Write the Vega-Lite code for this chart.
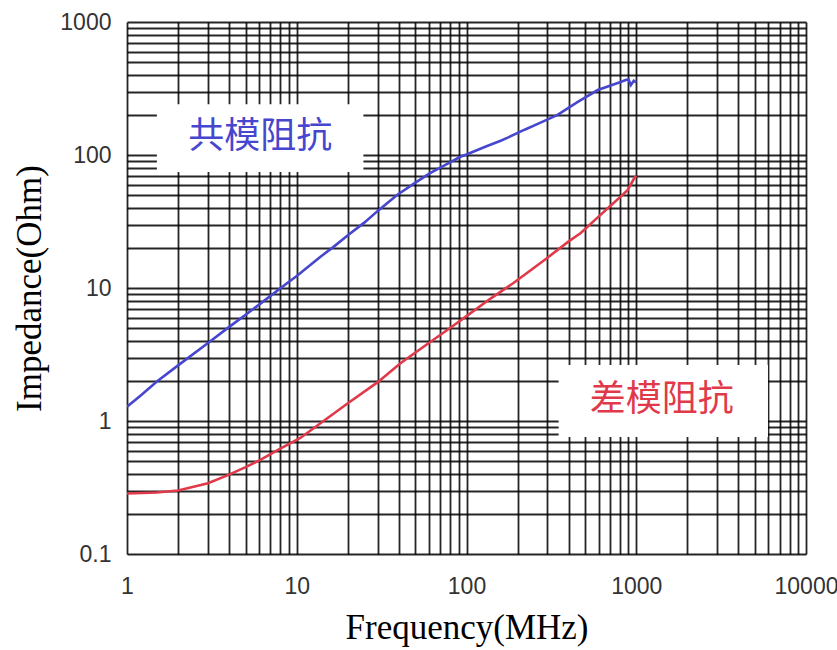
{
  "$schema": "https://vega.github.io/schema/vega-lite/v6.json",
  "width": 679,
  "height": 532,
  "autosize": {"type": "none"},
  "padding": {"left": 127, "top": 22, "right": 31, "bottom": 96},
  "background": "white",
  "config": {"view": {"stroke": null}},
  "datasets": {
    "curves": [
      {"series": "共模", "f": 1, "z": 1.28},
      {"series": "共模", "f": 1.2, "z": 1.55},
      {"series": "共模", "f": 1.5, "z": 1.98},
      {"series": "共模", "f": 2, "z": 2.62},
      {"series": "共模", "f": 3, "z": 3.86},
      {"series": "共模", "f": 4, "z": 5.1},
      {"series": "共模", "f": 5, "z": 6.3},
      {"series": "共模", "f": 6, "z": 7.5},
      {"series": "共模", "f": 8.8, "z": 10.9},
      {"series": "共模", "f": 10, "z": 12.3},
      {"series": "共模", "f": 13.8, "z": 17.2},
      {"series": "共模", "f": 16.4, "z": 20.3},
      {"series": "共模", "f": 20, "z": 24.9},
      {"series": "共模", "f": 25, "z": 31},
      {"series": "共模", "f": 30, "z": 38},
      {"series": "共模", "f": 39, "z": 50},
      {"series": "共模", "f": 50, "z": 62},
      {"series": "共模", "f": 61, "z": 73},
      {"series": "共模", "f": 80, "z": 88},
      {"series": "共模", "f": 92, "z": 97},
      {"series": "共模", "f": 100, "z": 101},
      {"series": "共模", "f": 130, "z": 116},
      {"series": "共模", "f": 159, "z": 128},
      {"series": "共模", "f": 175, "z": 135},
      {"series": "共模", "f": 220, "z": 155},
      {"series": "共模", "f": 273, "z": 175},
      {"series": "共模", "f": 344, "z": 200},
      {"series": "共模", "f": 450, "z": 250},
      {"series": "共模", "f": 593, "z": 308},
      {"series": "共模", "f": 700, "z": 332},
      {"series": "共模", "f": 800, "z": 352},
      {"series": "共模", "f": 867, "z": 366},
      {"series": "共模", "f": 900, "z": 370},
      {"series": "共模", "f": 929, "z": 336},
      {"series": "共模", "f": 967, "z": 362},
      {"series": "共模", "f": 1000, "z": 352},
      {"series": "差模", "f": 1, "z": 0.285},
      {"series": "差模", "f": 1.5, "z": 0.29},
      {"series": "差模", "f": 2, "z": 0.3},
      {"series": "差模", "f": 3, "z": 0.34},
      {"series": "差模", "f": 3.9, "z": 0.39},
      {"series": "差模", "f": 5, "z": 0.45},
      {"series": "差模", "f": 6.1, "z": 0.51},
      {"series": "差模", "f": 8, "z": 0.62},
      {"series": "差模", "f": 10.5, "z": 0.745},
      {"series": "差模", "f": 15, "z": 1.04},
      {"series": "差模", "f": 20, "z": 1.36},
      {"series": "差模", "f": 30, "z": 1.96},
      {"series": "差模", "f": 41, "z": 2.73},
      {"series": "差模", "f": 60, "z": 3.86},
      {"series": "差模", "f": 80, "z": 5.0},
      {"series": "差模", "f": 100, "z": 6.15},
      {"series": "差模", "f": 140, "z": 8.4},
      {"series": "差模", "f": 189, "z": 10.9},
      {"series": "差模", "f": 250, "z": 14.2},
      {"series": "差模", "f": 300, "z": 16.9},
      {"series": "差模", "f": 400, "z": 22.4},
      {"series": "差模", "f": 471, "z": 25.9},
      {"series": "差模", "f": 600, "z": 34.4},
      {"series": "差模", "f": 700, "z": 41.2},
      {"series": "差模", "f": 800, "z": 48},
      {"series": "差模", "f": 891, "z": 54.6},
      {"series": "差模", "f": 967, "z": 66},
      {"series": "差模", "f": 1000, "z": 70}
    ],
    "boxes": [
      {"f": 1.5, "z": 241, "f2": 24.7, "z2": 74.5},
      {"f": 349, "z": 2.64, "f2": 5970, "z2": 0.758}
    ],
    "labels": [
      {"series": "共模", "label": "共模阻抗", "f": 6.09, "z": 136},
      {"series": "差模", "label": "差模阻抗", "f": 1414, "z": 1.44}
    ]
  },
  "encoding": {
    "x": {
      "field": "f",
      "type": "quantitative",
      "scale": {"type": "log", "domain": [1, 10000], "nice": false},
      "axis": {
        "title": "Frequency(MHz)",
        "values": [1,2,3,4,5,6,7,8,9,10,20,30,40,50,60,70,80,90,100,200,300,400,500,600,700,800,900,1000,2000,3000,4000,5000,6000,7000,8000,9000,10000],
        "grid": true,
        "gridColor": "#000",
        "gridWidth": 1.8,
        "gridOpacity": 0.85,
        "ticks": false,
        "domain": false,
        "labelOverlap": false,
        "labelFlush": false,
        "labelExpr": "indexof([1,10,100,1000,10000], datum.value) >= 0 ? format(datum.value, '~g') : ''",
        "labelFont": "Liberation Sans",
        "labelFontSize": 23,
        "labelColor": "#333",
        "labelPadding": 21,
        "titleFont": "Liberation Serif",
        "titleFontSize": 35,
        "titleFontWeight": "normal",
        "titleColor": "#000",
        "titlePadding": 12
      }
    },
    "y": {
      "field": "z",
      "type": "quantitative",
      "scale": {"type": "log", "domain": [0.1, 1000], "nice": false},
      "axis": {
        "title": "Impedance(Ohm)",
        "values": [0.1,0.2,0.3,0.4,0.5,0.6,0.7,0.8,0.9,1,2,3,4,5,6,7,8,9,10,20,30,40,50,60,70,80,90,100,200,300,400,500,600,700,800,900,1000],
        "grid": true,
        "gridColor": "#000",
        "gridWidth": 1.8,
        "gridOpacity": 0.85,
        "ticks": false,
        "domain": false,
        "labelOverlap": false,
        "labelFlush": false,
        "labelExpr": "indexof([0.1,1,10,100,1000], datum.value) >= 0 ? format(datum.value, '~g') : ''",
        "labelFont": "Liberation Sans",
        "labelFontSize": 23,
        "labelColor": "#333",
        "labelPadding": 16,
        "titleFont": "Liberation Serif",
        "titleFontSize": 35,
        "titleFontWeight": "normal",
        "titleColor": "#000",
        "titlePadding": 12
      }
    }
  },
  "layer": [
    {
      "data": {"name": "boxes"},
      "mark": {"type": "rect", "color": "white", "opacity": 1},
      "encoding": {
        "x2": {"field": "f2"},
        "y2": {"field": "z2"}
      }
    },
    {
      "data": {"name": "curves"},
      "mark": {"type": "line", "strokeWidth": 2.6, "clip": true},
      "encoding": {
        "color": {
          "field": "series",
          "type": "nominal",
          "scale": {"domain": ["共模", "差模"], "range": ["#4646cf", "#e03a4a"]},
          "legend": null
        }
      }
    },
    {
      "data": {"name": "labels"},
      "mark": {"type": "text", "font": "Noto Sans CJK SC", "fontSize": 36, "align": "center", "baseline": "middle"},
      "encoding": {
        "text": {"field": "label"},
        "color": {
          "field": "series",
          "type": "nominal",
          "scale": {"domain": ["共模", "差模"], "range": ["#4646cf", "#e03a4a"]},
          "legend": null
        }
      }
    }
  ]
}
